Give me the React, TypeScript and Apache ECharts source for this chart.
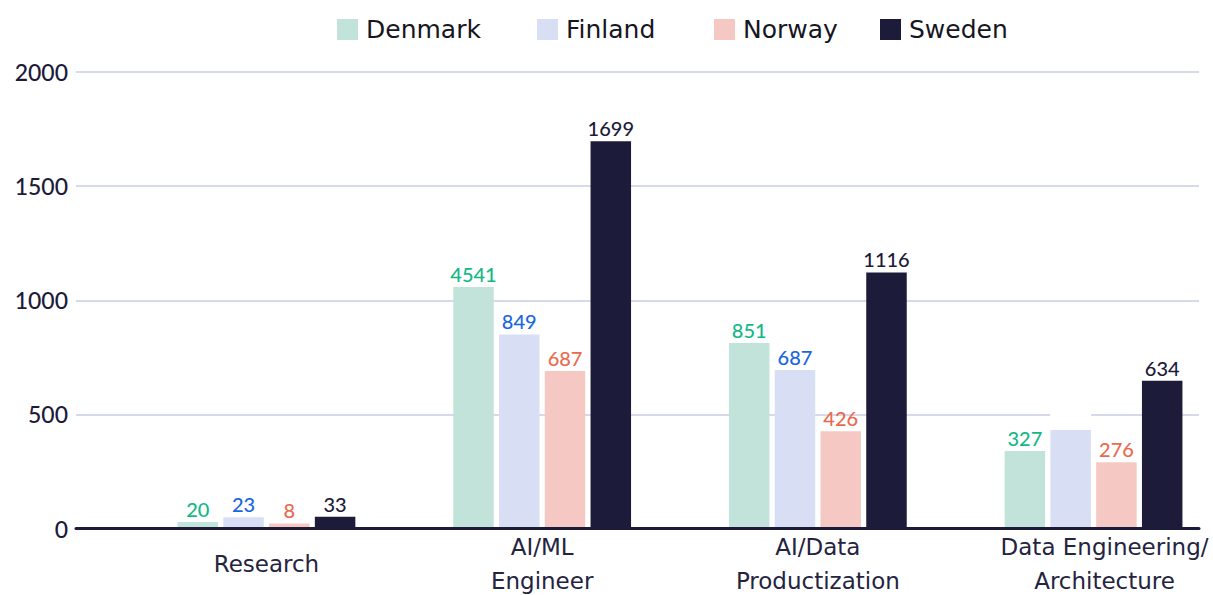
import React, { useEffect, useRef } from "react";
import * as echarts from "echarts";

const categories = ["Research", "AI/ML\nEngineer", "AI/Data\nProductization", "Data Engineering/\nArchitecture"];
const countries = ["Denmark", "Finland", "Norway", "Sweden"];

// bar heights as drawn
const denmarkBars = [29, 1058, 813, 339];
const finlandBars = [49, 850, 694, 431];
const norwayBars = [22, 690, 426, 290];
const swedenBars = [51, 1697, 1122, 647];

// value labels as printed
const denmarkLabels = [20, 4541, 851, 327];
const finlandLabels = [23, 849, 687, null];
const norwayLabels = [8, 687, 426, 276];
const swedenLabels = [33, 1699, 1116, 634];

const yTicks = [0, 500, 1000, 1500, 2000];

const barColors = ["#c2e3da", "#d8dff4", "#f6c8c3", "#1c1b3a"];
const labelColors = ["#13b887", "#1a66e0", "#ea6a50", "#1c1b3a"];
const legendLefts = [337, 537, 714, 880];

const NAVY = "#1c1b3a";
const XLABEL_COLOR = "#25243f";

export default function App() {
  const ref = useRef<HTMLDivElement>(null);
  useEffect(() => {
    if (!ref.current) return;
    const chart = echarts.init(ref.current, undefined, { renderer: "svg" });
    const bars = [denmarkBars, finlandBars, norwayBars, swedenBars];
    const labels = [denmarkLabels, finlandLabels, norwayLabels, swedenLabels];

    const series = countries.map((name, si) => ({
      name,
      type: "bar",
      xAxisIndex: 1,
      yAxisIndex: 1,
      barWidth: 40.5,
      barGap: "13%",
      itemStyle: { color: barColors[si] },
      label: {
        show: true,
        position: "top",
        distance: 3,
        color: labelColors[si],
        fontFamily: "Lato",
        fontSize: 20,
        fontWeight: 500,
        formatter: (p: any) => {
          const v = labels[si][p.dataIndex];
          return v === null || v === undefined ? " " : String(v);
        },
      },
      data: bars[si].map((v, i) =>
        labels[si][i] === null
          ? {
              value: v,
              label: {
                show: true,
                formatter: " ",
                backgroundColor: "#ffffff",
                width: 41,
                height: 22,
                distance: 0,
              },
            }
          : v
      ),
    }));

    chart.setOption({
      animation: false,
      legend: countries.map((name, i) => ({
        data: [name],
        left: legendLefts[i],
        top: 17,
        padding: 0,
        icon: "rect",
        itemWidth: 21,
        itemHeight: 21,
        textStyle: {
          fontFamily: "DejaVu Sans",
          fontSize: 25,
          color: "#161622",
          padding: [0, 0, 0, 3],
        },
      })),
      grid: [
        { left: 76, right: 14, top: 72, bottom: 66.5, containLabel: false, outerBoundsMode: "none" },
        { left: 128.6, width: 1102.8, top: 72, bottom: 66.5, containLabel: false, outerBoundsMode: "none" },
      ],
      xAxis: [
        {
          gridIndex: 0,
          type: "value",
          min: 0,
          max: 1,
          z: 10,
          axisLine: { show: true, lineStyle: { color: NAVY, width: 3 } },
          axisTick: { show: false },
          axisLabel: { show: false },
          splitLine: { show: false },
        },
        {
          gridIndex: 1,
          type: "category",
          data: categories,
          axisLine: { show: false },
          axisTick: { show: false },
          axisLabel: {
            margin: 35,
            verticalAlign: "middle",
            lineHeight: 34,
            fontFamily: "DejaVu Sans",
            fontSize: 23,
            color: XLABEL_COLOR,
            interval: 0,
            formatter: (v: string, i: number) =>
              i === categories.length - 1
                ? v
                    .split("\n")
                    .map((l) => `{s|${l}}`)
                    .join("\n")
                : v,
            rich: {
              s: {
                padding: [0, 0, 0, 22],
                fontFamily: "DejaVu Sans",
                fontSize: 23,
                lineHeight: 34,
                color: XLABEL_COLOR,
              },
            },
          },
        },
      ],
      yAxis: [
        {
          gridIndex: 0,
          type: "value",
          min: yTicks[0],
          max: yTicks[yTicks.length - 1],
          interval: 500,
          axisLine: { show: false },
          axisTick: { show: false },
          axisLabel: {
            margin: 8,
            fontFamily: "Lato",
            fontSize: 23,
            fontWeight: 500,
            color: NAVY,
            formatter: (v: number) => String(v),
          },
          splitLine: { show: true, lineStyle: { color: "#c9cde2", width: 1.5 } },
        },
        {
          gridIndex: 1,
          type: "value",
          min: 0,
          max: 2000,
          show: false,
        },
      ],
      series,
    });
    return () => chart.dispose();
  }, []);
  return (
    <div
      ref={ref}
      style={{ position: "fixed", left: 0, top: 0, width: 1213, height: 595, background: "#ffffff" }}
    />
  );
}
